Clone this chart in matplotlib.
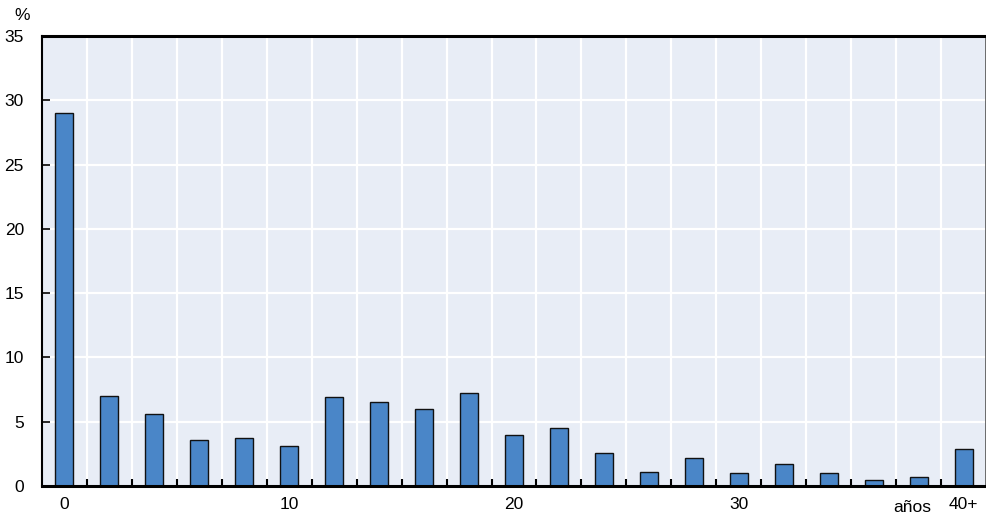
import matplotlib
matplotlib.use("Agg")
import matplotlib.pyplot as plt
import numpy as np

categories = ["0", "2", "4", "6", "8", "10", "12", "14", "16", "18", "20",
              "22", "24", "26", "28", "30", "32", "34", "36", "38", "40+"]
values = [29.0, 7.0, 5.6, 3.55, 3.7, 3.15, 6.9, 6.5, 6.0, 7.2, 4.0,
          4.5, 2.6, 1.1, 2.2, 1.0, 1.7, 1.0, 0.45, 0.7, 2.9]
shown_labels = ["0", "10", "20", "30", "40+"]
y_ticks = [0, 5, 10, 15, 20, 25, 30, 35]
unit_label = "%"
axis_note = "años"

plt.rcParams['font.family'] = ['Liberation Sans', 'DejaVu Sans']

fig = plt.figure(figsize=(9.87, 5.16), dpi=100)
ax = fig.add_axes([42/987, 30/516, 944/987, 450/516])
ax.set_facecolor('#E8EDF6')

x = np.arange(len(categories))
ax.bar(x, values, width=0.4, color='#4A86C8', edgecolor='#111111', linewidth=1.0, zorder=3)

ax.set_xlim(-0.5, len(categories) - 0.5)
ax.set_ylim(0, 35)

fs = 12.5
labels = [c if c in shown_labels else "" for c in categories]
ax.set_xticks(x)
ax.set_xticklabels(labels, fontsize=fs)
ax.tick_params(axis='x', which='major', length=0, pad=8)
ax.set_xticks(np.arange(0.5, len(categories) - 1, 1.0), minor=True)
ax.tick_params(axis='x', which='minor', direction='in', length=5, width=1.5, color='black')

ax.set_yticks(y_ticks)
ax.set_yticklabels([str(v) for v in y_ticks], fontsize=fs)
ax.tick_params(axis='y', direction='in', length=6, width=1.2, pad=13, color='black')

ax.grid(False)
for yv in y_ticks[1:-1]:
    ax.axhline(yv, color='white', linewidth=1.6, zorder=1)
for xv in np.arange(0.5, len(categories) - 1, 1.0):
    ax.axvline(xv, color='white', linewidth=1.6, zorder=1)

for side in ['left', 'bottom', 'top']:
    ax.spines[side].set_color('black')
ax.spines['left'].set_linewidth(1.5)
ax.spines['bottom'].set_linewidth(2.2)
ax.spines['top'].set_linewidth(2.2)
ax.spines['right'].set_color('#555555')
ax.spines['right'].set_linewidth(1.2)
for s in ax.spines.values():
    s.set_zorder(5)

fig.text(22/987, 1 - 15/516, unit_label, fontsize=fs, ha='center', va='center')
ax.text(18.85, -0.03, axis_note, transform=ax.get_xaxis_transform(),
        fontsize=fs, ha='center', va='top')

fig.savefig("out.png", dpi=100)
